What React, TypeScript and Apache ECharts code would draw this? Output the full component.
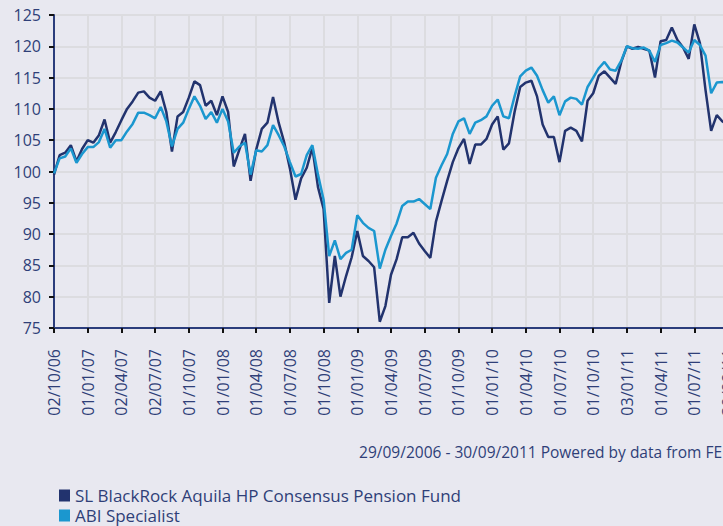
import { useEffect, useRef } from 'react';
import * as echarts from 'echarts';

const tickLabels = [
  '02/10/06', '01/01/07', '02/04/07', '02/07/07', '01/10/07', '01/01/08', '01/04/08',
  '01/07/08', '01/10/08', '01/01/09', '01/04/09', '01/07/09', '01/10/09', '01/01/10',
  '01/04/10', '01/07/10', '01/10/10', '03/01/11', '01/04/11', '01/07/11', '30/09/11',
];
const POINTS_PER_QUARTER = 6;

const seriesNames = ['SL BlackRock Aquila HP Consensus Pension Fund', 'ABI Specialist'];

const fundValues = [
  99.5, 102.6, 103.0, 104.2, 101.6, 103.6,
  105.0, 104.6, 105.8, 108.3, 104.6, 106.3,
  108.2, 110.0, 111.2, 112.6, 112.8, 111.8,
  111.3, 112.8, 109.5, 103.2, 108.8, 109.5,
  111.8, 114.4, 113.8, 110.5, 111.3, 109.0,
  112.0, 109.5, 100.8, 103.5, 106.0, 98.5,
  103.5, 106.8, 107.8, 111.9, 107.8, 104.6,
  100.5, 95.5, 98.9, 100.6, 103.8, 97.5,
  94.0, 79.0, 86.5, 80.0, 83.3, 86.3,
  90.5, 86.5, 85.7, 84.7, 76.0, 78.5,
  83.5, 86.0, 89.5, 89.5, 90.2, 88.5,
  87.3, 86.2, 92.0, 95.3, 98.5, 101.5,
  103.7, 105.2, 101.2, 104.3, 104.3, 105.2,
  107.5, 108.8, 103.5, 104.5, 109.5, 113.5,
  114.2, 114.5, 112.0, 107.5, 105.5, 105.5,
  101.5, 106.5, 107.0, 106.5, 104.8, 111.3,
  112.5, 115.3, 116.0, 115.0, 114.0, 117.5,
  120.0, 119.6, 119.9, 119.6, 119.3, 115.0,
  120.8, 121.0, 123.0, 121.0, 119.8, 118.0,
  123.5, 120.5, 113.0, 106.5, 109.0, 108.0,
  107.5,
];

const sectorValues = [
  99.7, 102.1, 102.4, 103.7, 101.4, 102.8,
  103.9, 103.9, 104.7, 106.8, 103.8, 105.0,
  105.0, 106.4, 107.6, 109.4, 109.4, 109.0,
  108.5, 110.3, 108.0, 104.0, 106.8, 107.8,
  110.0, 112.0, 110.5, 108.4, 109.5, 107.8,
  110.0, 108.0, 103.0, 104.0, 104.6, 99.5,
  103.4, 103.2, 104.2, 107.4, 105.8, 104.0,
  101.5, 99.2, 99.6, 102.6, 104.2, 99.5,
  95.5, 86.5, 89.0, 86.0, 87.0, 87.5,
  93.0, 91.8, 91.0, 90.5, 84.5, 87.5,
  89.7, 91.7, 94.5, 95.2, 95.2, 95.6,
  94.8, 94.0, 99.0, 101.0, 102.8, 106.0,
  108.0, 108.5, 106.0, 107.8, 108.2, 108.8,
  110.5, 111.5, 108.8, 108.5, 112.0, 115.2,
  116.1, 116.6, 115.3, 113.0, 111.0, 112.0,
  109.0, 111.2, 111.8, 111.6, 110.7, 113.5,
  115.0, 116.5, 117.5, 116.3, 116.1, 117.7,
  120.0, 119.7, 119.6, 119.8, 119.3, 117.5,
  120.2, 120.5, 120.9, 120.6, 119.8, 119.0,
  121.0, 120.2, 118.5, 112.5, 114.2, 114.3,
  114.0,
];

const footerText = '29/09/2006 - 30/09/2011 Powered by data from FE';

const FONT = "'Open Sans', 'Noto Sans', sans-serif";
const TEXT_COLOR = '#2f3f78';
const DARK = '#22336e';
const LIGHT = '#1b97cf';

export default function App() {
  const ref = useRef<HTMLDivElement>(null);

  useEffect(() => {
    document.body.style.margin = '0';
    document.body.style.background = '#e8e8f0';
    if (!ref.current) return;
    const chart = echarts.init(ref.current, undefined, { renderer: 'svg' });

    const categories: string[] = [];
    tickLabels.forEach((t, q) => {
      const count = q === tickLabels.length - 1 ? 1 : POINTS_PER_QUARTER;
      for (let k = 0; k < count; k++) categories.push(k === 0 ? t : `${t}\u00b7${k}`);
    });

    chart.setOption({
      animation: false,
      backgroundColor: '#e8e8f0',
      textStyle: { fontFamily: FONT },
      grid: { left: 54, right: -5, top: 15, bottom: 198, outerBoundsMode: 'none' },
      xAxis: {
        type: 'category',
        data: categories,
        boundaryGap: false,
        axisLine: { lineStyle: { color: '#2b3d7c', width: 2 } },
        axisTick: { interval: POINTS_PER_QUARTER - 1, length: 5, lineStyle: { color: '#111', width: 2 } },
        axisLabel: {
          interval: POINTS_PER_QUARTER - 1,
          rotate: 90,
          margin: 21,
          fontSize: 16,
          fontFamily: FONT,
          color: TEXT_COLOR,
          formatter: (v: string) => v.split('\u00b7')[0],
        },
        splitLine: { show: true, interval: POINTS_PER_QUARTER - 1, lineStyle: { color: '#dcdce0', width: 2 } },
      },
      yAxis: {
        type: 'value',
        min: 75,
        max: 125,
        interval: 5,
        axisLine: { show: true, lineStyle: { color: '#2b3d7c', width: 2 } },
        axisTick: { show: true, length: 5, lineStyle: { color: '#111', width: 2 } },
        axisLabel: { margin: 13, fontSize: 16, fontFamily: FONT, color: TEXT_COLOR },
        splitLine: { show: true, lineStyle: { color: '#dcdce0', width: 2 } },
      },
      legend: {
        orient: 'vertical',
        left: 59,
        top: 487,
        padding: 0,
        height: 42,
        itemWidth: 11,
        itemHeight: 12,
        itemGap: 3,
        icon: 'rect',
        data: seriesNames,
        textStyle: { fontFamily: FONT, fontSize: 17, color: TEXT_COLOR, lineHeight: 17 },
        selectedMode: false,
      },
      graphic: [
        {
          type: 'text',
          right: 1,
          top: 444,
          style: { text: footerText, font: `15.5px ${FONT}`, fill: TEXT_COLOR },
        },
      ],
      series: [
        {
          name: seriesNames[0],
          type: 'line',
          data: fundValues,
          showSymbol: false,
          color: DARK,
          lineStyle: { color: DARK, width: 2.5 },
        },
        {
          name: seriesNames[1],
          type: 'line',
          data: sectorValues,
          showSymbol: false,
          color: LIGHT,
          lineStyle: { color: LIGHT, width: 2.5 },
        },
      ],
    });

    return () => chart.dispose();
  }, []);

  return <div ref={ref} style={{ width: 723, height: 526 }} />;
}
